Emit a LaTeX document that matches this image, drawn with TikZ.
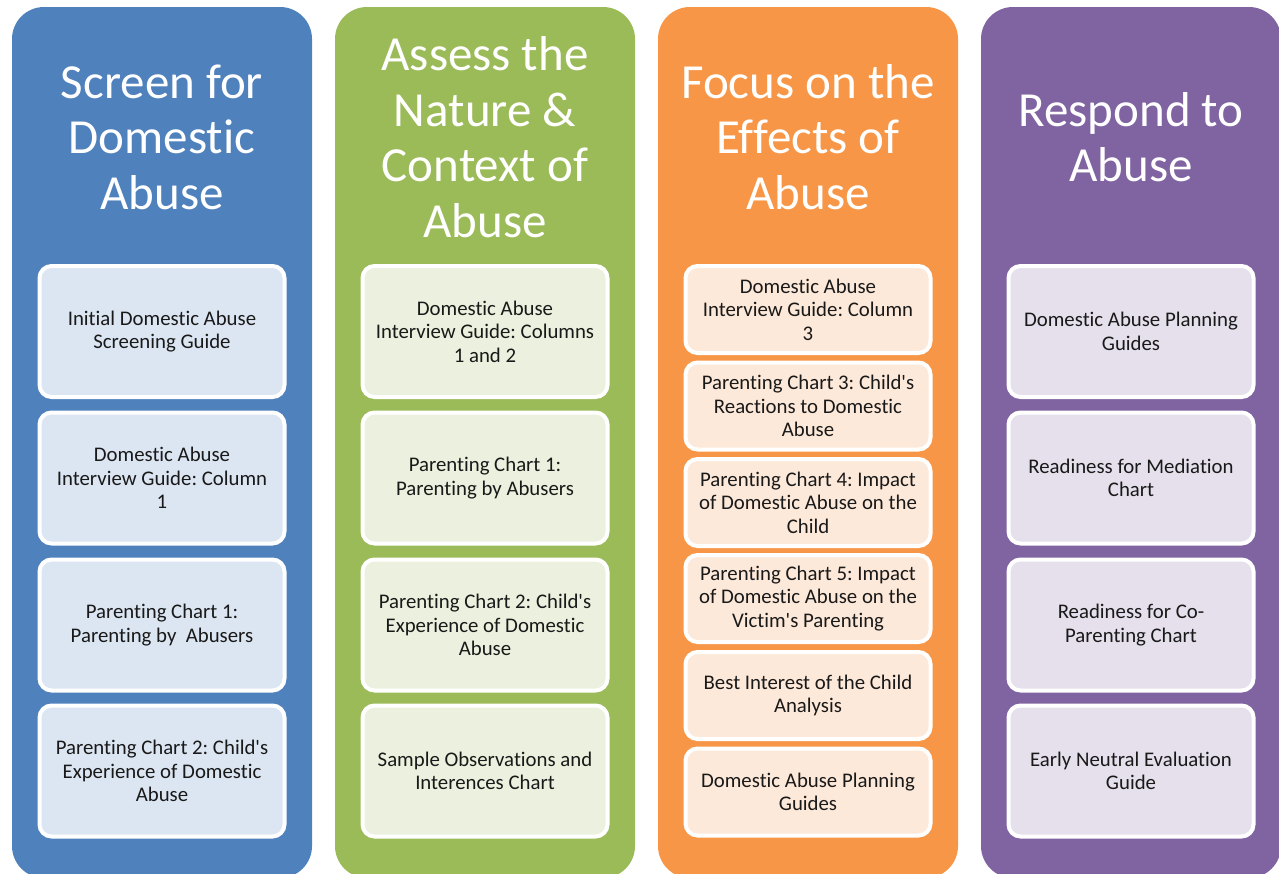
\documentclass[tikz,border=0pt]{standalone}
\usepackage{fontspec}
\setmainfont{Carlito}[Ligatures={TeX,NoCommon}]
\definecolor{cblue}{HTML}{4F81BD}
\definecolor{cgreen}{HTML}{9BBB59}
\definecolor{corange}{HTML}{F79646}
\definecolor{cpurple}{HTML}{8064A2}
\definecolor{lblue}{HTML}{DCE6F2}
\definecolor{lgreen}{HTML}{EBF1DE}
\definecolor{lorange}{HTML}{FDE9D9}
\definecolor{lpurple}{HTML}{E5E0EC}
\newcommand{\sq}{\textquotesingle}
\begin{document}
\frenchspacing
\begin{tikzpicture}[x=1pt,y=-1pt,
  colbox/.style={rounded corners=32pt, draw=none},
  title/.style={text=white, align=center, font=\fontsize{49}{55.5}\selectfont},
  item/.style={draw=white, line width=4pt, rounded corners=12pt, align=center,
    font=\fontsize{20.8}{23.5}\selectfont, text=black!90, inner sep=0pt},
]
\useasboundingbox (0,0) rectangle (1279,873);
\begin{scope}
\clip (0,0) rectangle (1279,873);
\fill[colbox, cblue] (12,7) rectangle (312,878);
\fill[colbox, cgreen] (335,7) rectangle (635,878);
\fill[colbox, corange] (658,7) rectangle (958,878);
\fill[colbox, cpurple] (981,7) rectangle (1281,878);
\end{scope}
\node[title] (t1) at (162,137) {Screen for\\Domestic\\Abuse};
\node[title] (t2) at (485,137) {Assess the\\Nature \&\\Context of\\Abuse};
\node[title] (t3) at (808,137) {Focus on the\\Effects of\\Abuse};
\node[title] (t4) at (1131,137) {Respond to\\Abuse};
\foreach \cx/\fc/\nm/\ta/\tb/\tc/\td in {
  162/lblue/b/{Initial Domestic Abuse\\Screening Guide}/{Domestic Abuse\\Interview Guide: Column\\1}/{Parenting Chart 1:\\Parenting by\ \ Abusers}/{Parenting Chart 2: Child\sq s\\Experience of Domestic\\Abuse},
  485/lgreen/g/{Domestic Abuse\\Interview Guide: Columns\\1 and 2}/{Parenting Chart 1:\\Parenting by Abusers}/{Parenting Chart 2: Child\sq s\\Experience of Domestic\\Abuse}/{Sample Observations and\\Interences Chart},
  1131/lpurple/p/{Domestic Abuse Planning\\Guides}/{Readiness for Mediation\\Chart}/{Readiness for Co-\\Parenting Chart}/{Early Neutral Evaluation\\Guide}}{
  \node[item, fill=\fc, minimum width=245pt, minimum height=131pt] (\nm1) at (\cx,331.5) {\ta};
  \node[item, fill=\fc, minimum width=245pt, minimum height=131pt] (\nm2) at (\cx,478) {\tb};
  \node[item, fill=\fc, minimum width=245pt, minimum height=131pt] (\nm3) at (\cx,625) {\tc};
  \node[item, fill=\fc, minimum width=245pt, minimum height=131pt] (\nm4) at (\cx,771) {\td};
}
\tikzset{oitem/.style={item, fill=lorange, minimum width=245pt, minimum height=87pt}}
\node[oitem] (o1) at (808,309.5) {Domestic Abuse\\Interview Guide: Column\\3};
\node[oitem] (o2) at (808,406) {Parenting Chart 3: Child\sq s\\Reactions to Domestic\\Abuse};
\node[oitem] (o3) at (808,502.5) {Parenting Chart 4: Impact\\of Domestic Abuse on the\\Child};
\node[oitem] (o4) at (808,598.5) {Parenting Chart 5: Impact\\of Domestic Abuse on the\\Victim\sq s Parenting};
\node[oitem] (o5) at (808,695.5) {Best Interest of the Child\\Analysis};
\node[oitem] (o6) at (808,792) {Domestic Abuse Planning\\Guides};
\end{tikzpicture}
\end{document}
